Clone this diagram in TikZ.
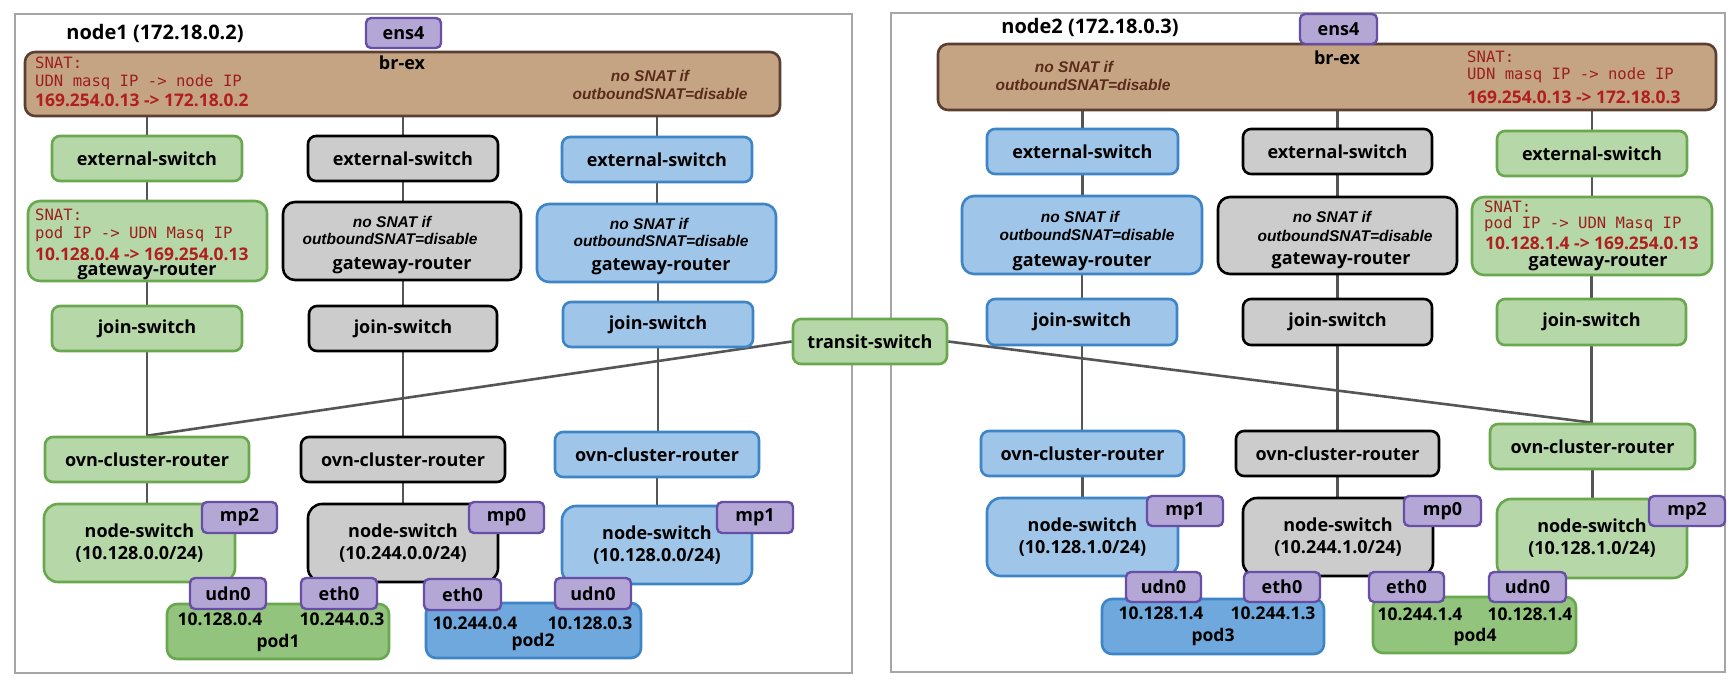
\documentclass[tikz,border=0pt]{standalone}
\usepackage{fontspec}
\setmainfont{Open Sans}
\newfontfamily\monof{DejaVu Sans Mono}
\newfontfamily\arialf{Liberation Sans}
\usetikzlibrary{backgrounds}
\definecolor{gfill}{HTML}{B6D7A8}
\definecolor{gdraw}{HTML}{6AA84F}
\definecolor{grfill}{HTML}{CCCCCC}
\definecolor{bfill}{HTML}{9FC5E8}
\definecolor{bdraw}{HTML}{3D85C6}
\definecolor{pgfillc}{HTML}{93C47D}
\definecolor{pbfillc}{HTML}{6FA8DC}
\definecolor{pfill}{HTML}{B4A7D6}
\definecolor{pdraw}{HTML}{674EA7}
\definecolor{brfill}{HTML}{C5A484}
\definecolor{brdraw}{HTML}{5B3F33}
\definecolor{framec}{HTML}{A6A6A6}
\definecolor{connc}{HTML}{555555}
\definecolor{monored}{HTML}{9C1F1F}
\definecolor{ipred}{HTML}{B01E1E}
\definecolor{brtext}{HTML}{5A2A1A}
\begin{document}
\begin{tikzpicture}[x=1pt,y=-1pt,
  lblfont/.style={font=\bfseries\fontsize{18}{22}\selectfont},
  box/.style={draw, line width=2.6pt, rounded corners=8pt, inner sep=0pt, align=center, lblfont},
  sz/.style 2 args={minimum width=#1pt, minimum height=#2pt},
  gbox/.style={box, fill=gfill, draw=gdraw},
  ybox/.style={box, fill=grfill, draw=black},
  bbox/.style={box, fill=bfill, draw=bdraw},
  podg/.style={box, fill=pgfillc, draw=gdraw, rounded corners=10pt},
  podb/.style={box, fill=pbfillc, draw=bdraw, rounded corners=10pt},
  pbox/.style={box, fill=pfill, draw=pdraw, line width=2.4pt, rounded corners=5pt},
  brbox/.style={box, fill=brfill, draw=brdraw, rounded corners=10pt},
  framebox/.style={draw=framec, line width=2.6pt, inner sep=0pt},
  conn/.style={draw=connc, line width=2.6pt},
  txt/.style={inner sep=0pt, lblfont},
  iptxt/.style={inner sep=0pt, font=\bfseries\fontsize{17.5}{20}\selectfont},
  ital/.style={inner sep=0pt, font=\arialf\bfseries\itshape\fontsize{15.5}{18}\selectfont},
  monotxt/.style={inner sep=0pt, anchor=west, text=monored, font=\monof\fontsize{15.6}{18}\selectfont},
  redip/.style={inner sep=0pt, anchor=west, text=ipred, font=\bfseries\fontsize{17.4}{20}\selectfont},
  title/.style={inner sep=0pt, font=\bfseries\fontsize{20}{24}\selectfont},
  nsbox/.style={rounded corners=14pt}
]
\useasboundingbox (0,0) rectangle (1736,683);

% frames
\node[framebox, sz={837}{659}] (f1) at (433.5,343.5) {};
\node[framebox, sz={834}{659}] (f2) at (1308,342.5) {};
\node[title] (t1) at (155,33) {node1 (172.18.0.2)};
\node[title] (t2) at (1090,27) {node2 (172.18.0.3)};

% ===== node1 =====
\node[brbox, sz={755}{64}] (brex1) at (402.5,84) {};
\node[pbox, sz={75}{30}] (ens4a) at (403.5,33) {ens4};
\node[txt] (brl1) at (402,63) {br-ex};
\node[monotxt] (m1a) at (35,63) {SNAT:};
\node[monotxt] (m1b) at (35,82) {UDN masq IP -> node IP};
\node[redip] (r1) at (35,100) {169.254.0.13 -> 172.18.0.2};
\node[ital, text=brtext] (n1a) at (650,76) {no SNAT if};
\node[ital, text=brtext] (n1b) at (660,94) {outboundSNAT=disable};

\node[gbox, sz={190}{45}] (ext1a) at (147,158.5) {external-switch};
\node[ybox, sz={190}{45}] (ext1b) at (403,158.5) {external-switch};
\node[bbox, sz={190}{45}] (ext1c) at (657,159.5) {external-switch};

\node[gbox, sz={239}{80}, rounded corners=12pt] (gw1a) at (147.5,241) {};
\node[monotxt] at (35,215) {SNAT:};
\node[monotxt] at (35,234) {pod IP -> UDN Masq IP};
\node[redip] at (35,254) {10.128.0.4 -> 169.254.0.13};
\node[txt] at (147,271.5) {gateway-router};
\node[ybox, sz={238}{78}, rounded corners=12pt] (gw1b) at (402,241) {};
\node[ital] at (392,222) {no SNAT if};
\node[ital] at (390,239) {outboundSNAT=disable};
\node[txt] at (402,266) {gateway-router};
\node[bbox, sz={239}{78}, rounded corners=12pt] (gw1c) at (656.5,243) {};
\node[ital] at (649,224) {no SNAT if};
\node[ital] at (661,241) {outboundSNAT=disable};
\node[txt] at (661,267) {gateway-router};

\node[gbox, sz={190}{45}] (js1a) at (147,328.5) {join-switch};
\node[ybox, sz={188}{45}] (js1b) at (403,328.5) {join-switch};
\node[bbox, sz={190}{45}] (js1c) at (658,324.5) {join-switch};

\node[gbox, sz={154}{45}] (ts) at (870,341.5) {transit-switch};

\node[gbox, sz={204}{45}] (ocr1a) at (147,459.5) {ovn-cluster-router};
\node[ybox, sz={204}{45}] (ocr1b) at (403,459.5) {ovn-cluster-router};
\node[bbox, sz={204}{45}] (ocr1c) at (657,454.5) {ovn-cluster-router};

\node[gbox, nsbox, sz={191}{78}] (ns1a) at (139.5,543) {node-switch\\(10.128.0.0/24)};
\node[ybox, nsbox, sz={190}{78}] (ns1b) at (403,543) {node-switch\\(10.244.0.0/24)};
\node[bbox, nsbox, sz={190}{78}] (ns1c) at (657,545) {node-switch\\(10.128.0.0/24)};

\node[podg, sz={222}{55}] (pod1) at (278,631.5) {};
\node[iptxt] at (220,619) {10.128.0.4};
\node[iptxt] at (342,619) {10.244.0.3};
\node[iptxt] at (278,643) {pod1};
\node[podb, sz={215}{55}] (pod2) at (533.5,630.5) {};
\node[iptxt] at (475,623) {10.244.0.4};
\node[iptxt] at (590,623) {10.128.0.3};
\node[iptxt] at (533,642) {pod2};

\node[pbox, sz={75}{31}] (mp2a) at (239.5,517.5) {mp2};
\node[pbox, sz={75}{31}] (mp0a) at (506.5,517.5) {mp0};
\node[pbox, sz={76}{31}] (mp1a) at (755,517.5) {mp1};
\node[pbox, sz={76}{31}] (udn0a) at (228,593.5) {udn0};
\node[pbox, sz={76}{31}] (eth0a) at (339,593.5) {eth0};
\node[pbox, sz={77}{31}] (eth0b) at (462.5,594.5) {eth0};
\node[pbox, sz={76}{31}] (udn0b) at (593,593.5) {udn0};

% ===== node2 =====
\node[brbox, sz={778}{66}] (brex2) at (1327,77) {};
\node[pbox, sz={77}{30}] (ens4b) at (1338.5,29) {ens4};
\node[txt] (brl2) at (1337,58) {br-ex};
\node[ital, text=brtext] (n2a) at (1074,67) {no SNAT if};
\node[ital, text=brtext] (n2b) at (1083,85) {outboundSNAT=disable};
\node[monotxt] (m2a) at (1467,57) {SNAT:};
\node[monotxt] (m2b) at (1467,75) {UDN masq IP -> node IP};
\node[redip] (r2) at (1467,97) {169.254.0.13 -> 172.18.0.3};

\node[bbox, sz={191}{45}] (ext2a) at (1082.5,151.5) {external-switch};
\node[ybox, sz={189}{45}] (ext2b) at (1337.5,151.5) {external-switch};
\node[gbox, sz={190}{45}] (ext2c) at (1592,153.5) {external-switch};

\node[bbox, sz={240}{78}, rounded corners=12pt] (gw2a) at (1082,235) {};
\node[ital] at (1080,217) {no SNAT if};
\node[ital] at (1087,235) {outboundSNAT=disable};
\node[txt] at (1082,263) {gateway-router};
\node[ybox, sz={239}{77}, rounded corners=12pt] (gw2b) at (1337.5,235.5) {};
\node[ital] at (1332,217) {no SNAT if};
\node[ital] at (1345,236) {outboundSNAT=disable};
\node[txt] at (1341,261) {gateway-router};
\node[gbox, sz={240}{78}, rounded corners=12pt] (gw2c) at (1592,236) {};
\node[monotxt] at (1484,207) {SNAT:};
\node[monotxt] at (1484,224) {pod IP -> UDN Masq IP};
\node[redip] at (1485,243.5) {10.128.1.4 -> 169.254.0.13};
\node[txt] at (1598,262.5) {gateway-router};

\node[bbox, sz={190}{46}] (js2a) at (1082,322) {join-switch};
\node[ybox, sz={189}{46}] (js2b) at (1337.5,322) {join-switch};
\node[gbox, sz={189}{46}] (js2c) at (1591.5,322) {join-switch};

\node[bbox, sz={203}{45}] (ocr2a) at (1082.5,453.5) {ovn-cluster-router};
\node[ybox, sz={203}{45}] (ocr2b) at (1337.5,453.5) {ovn-cluster-router};
\node[gbox, sz={205}{45}] (ocr2c) at (1592.5,446.5) {ovn-cluster-router};

\node[bbox, nsbox, sz={191}{78}] (ns2a) at (1082.5,537) {node-switch\\(10.128.1.0/24)};
\node[ybox, nsbox, sz={190}{78}] (ns2b) at (1338,537) {node-switch\\(10.244.1.0/24)};
\node[gbox, nsbox, sz={190}{79}] (ns2c) at (1592,538.5) {node-switch\\(10.128.1.0/24)};

\node[podb, sz={222}{55}] (pod3) at (1213,626.5) {};
\node[iptxt] at (1161,613) {10.128.1.4};
\node[iptxt] at (1273,613) {10.244.1.3};
\node[iptxt] at (1213,637) {pod3};
\node[podg, sz={203}{56}] (pod4) at (1474.5,625) {};
\node[iptxt] at (1420,614) {10.244.1.4};
\node[iptxt] at (1530,614) {10.128.1.4};
\node[iptxt] at (1475,637) {pod4};

\node[pbox, sz={76}{30}] (mp1b) at (1185,511) {mp1};
\node[pbox, sz={77}{30}] (mp0b) at (1442.5,511) {mp0};
\node[pbox, sz={76}{30}] (mp2b) at (1687,511) {mp2};
\node[pbox, sz={75}{30}] (udn0c) at (1163.5,587) {udn0};
\node[pbox, sz={76}{30}] (eth0c) at (1282,587) {eth0};
\node[pbox, sz={75}{30}] (eth0d) at (1406.5,587) {eth0};
\node[pbox, sz={77}{30}] (udn0d) at (1527.5,587) {udn0};

% ===== connectors (behind the boxes) =====
\begin{scope}[on background layer]
\fill[white] (0,0) rectangle (1736,683);
\foreach \br/\c in {brex1/1a,brex1/1b,brex1/1c,brex2/2a,brex2/2b,brex2/2c}{
  \draw[conn] (\br.south -| ext\c.north) -- (ext\c.north);
  \draw[conn] (ext\c.south) -- (ext\c.south |- gw\c.north);
  \draw[conn] (js\c.north |- gw\c.south) -- (js\c.north);
  \draw[conn] (js\c.south) -- (js\c.south |- ocr\c.north);
  \draw[conn] (ocr\c.south) -- (ocr\c.south |- ns\c.north);
}
\draw[conn] (ts.west) -- (ocr1a.north);
\draw[conn] (ts.east) -- (ocr2c.north);
\end{scope}
\end{tikzpicture}
\end{document}
